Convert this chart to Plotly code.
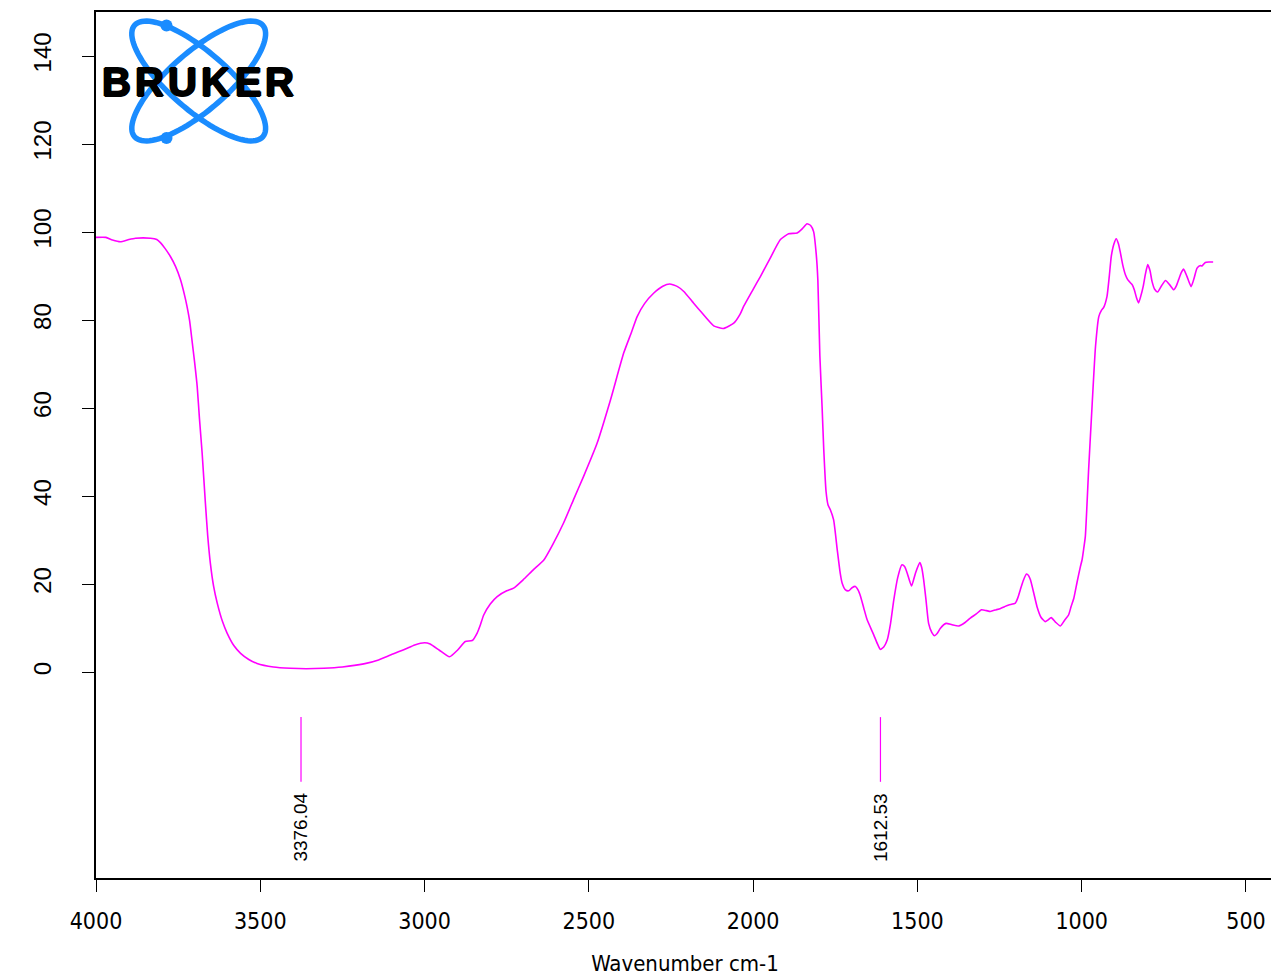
import math
import plotly.graph_objects as go

# ---------------- data ----------------
wavenumber = [4000, 3970, 3950, 3926, 3900, 3880, 3834, 3815, 3804, 3790, 3774, 3758, 3743, 3730,
              3723, 3715, 3708, 3700, 3692, 3685, 3677, 3667, 3660, 3652, 3642, 3631, 3615, 3601,
              3580, 3560, 3535, 3510, 3460, 3408, 3360, 3307, 3250, 3185, 3140, 3104, 3060, 3030,
              3000, 2983, 2955, 2924, 2900, 2876, 2855, 2840, 2830, 2820, 2800, 2779, 2750, 2729,
              2700, 2670, 2637, 2610, 2577, 2545, 2516, 2475, 2434, 2394, 2370, 2353, 2330, 2303,
              2275, 2254, 2230, 2211, 2185, 2160, 2120, 2091, 2059, 2040, 2029, 2000, 1978, 1950,
              1917, 1892, 1866, 1850, 1836, 1825, 1816, 1808, 1803, 1797, 1790, 1785, 1778, 1772,
              1765, 1755, 1744, 1735, 1729, 1719, 1709, 1699, 1689, 1680, 1673, 1663, 1653, 1633,
              1622, 1613, 1602, 1592, 1582, 1572, 1560, 1547, 1539, 1531, 1518, 1506, 1493, 1487,
              1481, 1474, 1466, 1456, 1448, 1440, 1430, 1413, 1395, 1374, 1355, 1339, 1320, 1305,
              1290, 1278, 1260, 1247, 1235, 1222, 1202, 1194, 1187, 1178, 1168, 1162, 1156, 1146,
              1136, 1124, 1111, 1102, 1093, 1080, 1065, 1052, 1040, 1032, 1024, 1014, 1004, 999,
              994, 989, 984, 979, 968, 958, 948, 940, 933, 923, 916, 910, 902, 895, 888, 882, 875,
              867, 860, 852, 846, 840, 833, 827, 820, 813, 806, 799, 792, 786, 778, 769, 757, 745,
              732, 720, 712, 705, 697, 690, 680, 667, 658, 649, 639, 634, 624, 612, 600]
transmittance = [98.8, 98.8, 98.2, 97.8, 98.3, 98.6, 98.6, 98.3, 97.6, 96.3, 94.5, 92.2, 89.2, 85.5,
                 83.1, 79.8, 75.5, 70.5, 64.9, 57.5, 49.8, 38.4, 31.0, 24.8, 19.5, 15.7, 11.5, 8.9,
                 6.0, 4.3, 2.9, 2.0, 1.2, 0.9, 0.8, 0.9, 1.2, 1.9, 2.8, 3.9, 5.2, 6.2,
                 6.7, 6.4, 5.0, 3.5, 5.0, 7.0, 7.2, 8.9, 10.8, 13.0, 15.5, 17.2, 18.5, 19.1,
                 21.0, 23.2, 25.5, 29.0, 33.9, 39.5, 44.5, 52.0, 61.9, 72.5, 77.3, 80.8, 83.8, 86.1,
                 87.7, 88.2, 87.6, 86.5, 84.2, 82.0, 78.7, 78.1, 79.3, 81.3, 83.1, 87.0, 89.9, 93.8,
                 98.3, 99.6, 99.8, 100.8, 101.9, 101.5, 100.1, 95.0, 89.0, 72.0, 60.0, 50.5, 41.0, 38.0,
                 36.9, 34.6, 27.8, 22.5, 20.2, 18.7, 18.5, 19.2, 19.5, 18.6, 17.2, 14.5, 11.9, 8.5,
                 6.5, 5.2, 5.8, 7.3, 11.0, 16.4, 21.5, 24.4, 24.0, 22.5, 19.6, 22.5, 24.9, 23.8,
                 21.0, 16.5, 11.1, 9.0, 8.3, 8.8, 10.0, 11.1, 10.8, 10.5, 11.3, 12.3, 13.3, 14.2,
                 14.0, 13.8, 14.2, 14.5, 14.9, 15.3, 15.7, 17.0, 18.7, 20.8, 22.3, 22.0, 21.0, 18.0,
                 14.9, 12.5, 11.5, 11.9, 12.4, 11.4, 10.5, 11.8, 13.0, 15.0, 16.8, 20.5, 24.0, 25.5,
                 28.0, 30.8, 38.0, 46.0, 61.1, 74.0, 80.8, 82.2, 82.9, 85.4, 90.0, 94.5, 97.3, 98.5, 97.3, 95.2, 92.5,
                 90.3, 89.2, 88.5, 88.0, 86.9, 85.0, 83.9, 85.5, 87.6, 90.5, 92.6, 91.2, 88.8, 87.0, 86.4, 87.8, 89.0,
                 88.0, 86.9, 87.8, 89.2, 90.8, 91.6, 90.0, 87.6, 89.5, 91.8, 92.4, 92.3, 93.1, 93.2, 93.2]

peak_positions = [3376.04, 1612.53]
peak_line_range = [-10.2, -24.9]

x_ticks = [4000, 3500, 3000, 2500, 2000, 1500, 1000, 500]
y_ticks = [0, 20, 40, 60, 80, 100, 120, 140]

MAGENTA = "#ff00ff"
BLUE = "#1a8cff"

# figure slightly wider than the window so the plot's right edge falls off-screen
W, H = 1274, 976
L, R, T, B = 96, 0, 12, 976 - 878
PW, PH = W - L - R, H - T - B

NARROW = "DejaVu Sans Condensed, Liberation Sans, Arial"


def px2paper(x, y):
    # page pixel -> paper coordinates
    return (x - L) / PW, (H - B - y) / PH


fig = go.Figure()
fig.add_trace(go.Scatter(x=wavenumber, y=transmittance, mode="lines",
                         line=dict(color=MAGENTA, width=1.6, shape="spline", smoothing=0.5),
                         hoverinfo="skip", showlegend=False))

# peak markers
px_, py_ = [], []
for p in peak_positions:
    px_ += [p, p, None]
    py_ += [peak_line_range[0], peak_line_range[1], None]
fig.add_trace(go.Scatter(x=px_, y=py_, mode="lines", line=dict(color=MAGENTA, width=1.2),
                         hoverinfo="skip", showlegend=False))
for p in peak_positions:
    fig.add_annotation(x=p, y=-27.0, xref="x", yref="y", text=f"{p:.2f}", showarrow=False,
                       textangle=-90, xanchor="center", yanchor="top",
                       font=dict(family="Liberation Sans, Arial", size=19, color="black"))

# ---------------- BRUKER logo (decoration) ----------------
shapes = []
cx, cy, a, b = 198.7, 81.0, 85.0, 29.0
for ang in (41.0, -41.0):
    th = math.radians(ang)
    pts = []
    for i in range(97):
        t = 2 * math.pi * i / 96
        ex = a * math.cos(t)
        ey = b * math.sin(t)
        x = cx + ex * math.cos(th) - ey * math.sin(th)
        y = cy + ex * math.sin(th) + ey * math.cos(th)
        u, v = px2paper(x, y)
        pts.append(f"{u:.5f},{v:.5f}")
    path = "M " + " L ".join(pts) + " Z"
    shapes.append(dict(type="path", path=path, xref="paper", yref="paper",
                       line=dict(color=BLUE, width=5.5), layer="above"))
for (dx, dy) in [(166.5, 25.5), (166.5, 138.0)]:
    u0, v0 = px2paper(dx - 6, dy + 6)
    u1, v1 = px2paper(dx + 6, dy - 6)
    shapes.append(dict(type="circle", xref="paper", yref="paper", x0=u0, y0=v0, x1=u1, y1=v1,
                       fillcolor=BLUE, line=dict(color=BLUE, width=0), layer="above"))
fig.update_layout(shapes=shapes)

letters = "BRUKER"
centers = [116.0, 149.0, 182.5, 215.5, 248.5, 279.5]
for ch, xc in zip(letters, centers):
    u, v = px2paper(xc, 82.0)
    fig.add_annotation(x=u, y=v, xref="paper", yref="paper", text=f"<b>{ch}</b>", showarrow=False,
                       xanchor="center", yanchor="middle",
                       font=dict(family="Liberation Sans, Arial", size=40, color="black",
                                 shadow="1px 0px 0px black, -1px 0px 0px black, 0px 1px 0px black, 0px -1px 0px black"))

# x range: 4000 at the left edge, 0.32857 px per cm-1
x_right = 4000 - PW / 0.32857

fig.update_layout(
    width=W, height=H,
    margin=dict(l=L, r=R, t=T, b=B, pad=0),
    paper_bgcolor="white", plot_bgcolor="white",
    xaxis=dict(range=[4000, x_right], tickvals=x_ticks, ticktext=[str(v) for v in x_ticks],
               showgrid=False, zeroline=False, showline=True, linecolor="black", linewidth=1.6,
               mirror=True, ticks="outside", ticklen=12, tickwidth=1.2, tickcolor="black",
               ticklabelstandoff=10,
               tickfont=dict(family=NARROW, size=23, color="black"),
               title=dict(text="Wavenumber cm-1", standoff=22,
                          font=dict(family=NARROW, size=22, color="black"))),
    yaxis=dict(range=[-46.75, 150], tickvals=y_ticks, ticktext=[str(v) for v in y_ticks],
               showgrid=False, zeroline=False, showline=True, linecolor="black", linewidth=1.6,
               mirror=False, ticks="outside", ticklen=12, tickwidth=1.2, tickcolor="black",
               tickangle=-90, ticklabelstandoff=22,
               tickfont=dict(family="Liberation Sans, Arial", size=24, color="black")),
)

fig.write_html("out.html", config={"displayModeBar": False},
               post_script="document.body.style.margin='0';document.body.style.overflow='hidden';")
